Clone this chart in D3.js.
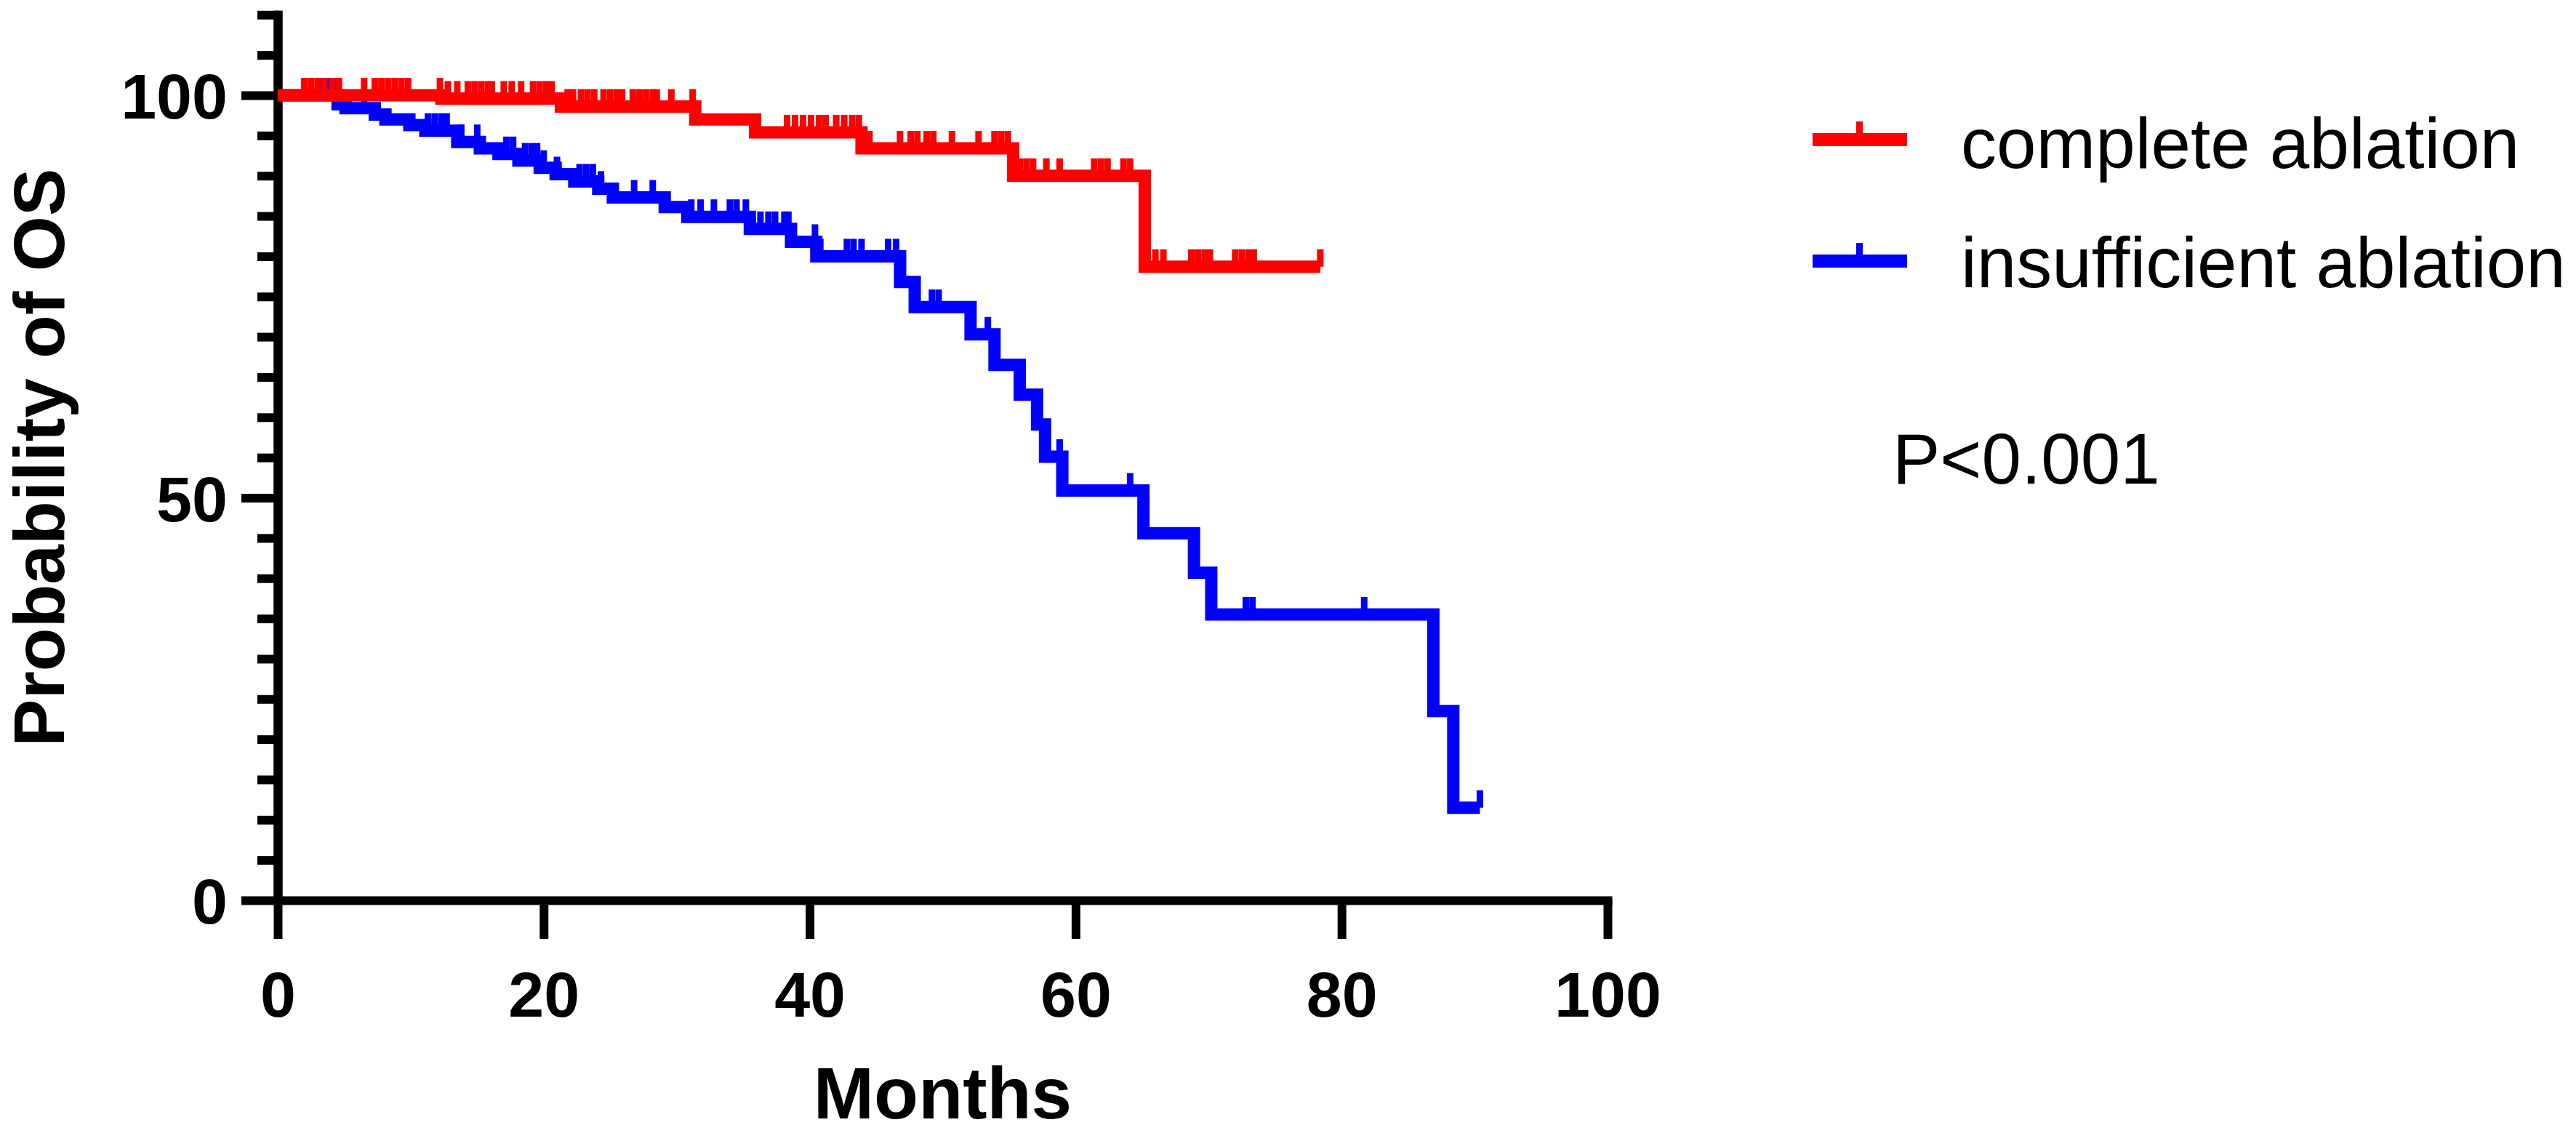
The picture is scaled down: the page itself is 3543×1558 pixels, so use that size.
<!DOCTYPE html>
<html>
<head>
<meta charset="utf-8">
<script src="https://cdn.jsdelivr.net/npm/d3@7"></script>
<style>
  body { margin: 0; background: #fff; }
  text { font-family: "Liberation Sans", Arial, sans-serif; fill: #000; }
</style>
</head>
<body>
<div id="chart"></div>
<script>
// Kaplan-Meier steps (months, % surviving)
const completeTimes = [0, 12.3, 21.3, 31.4, 35.9, 43.9, 55.3, 65.2];
const completeSurv = [100, 99.6, 98.6, 97.0, 95.4, 93.4, 90.0, 78.7];
const completeEnd = 78.4;
const completeCensored = [2.0, 2.5, 3.0, 3.5, 4.1, 4.6, 6.5, 7.3, 7.8, 8.3, 8.8, 9.3, 9.8,
    12.2, 12.8, 13.5, 14.3, 14.8, 15.3, 15.8, 16.1, 17.0, 17.6, 18.3, 19.2, 19.7, 20.2, 20.6,
    21.8, 22.2, 22.8, 23.3, 23.8, 24.5, 25.0, 25.5, 25.9, 26.7, 27.2, 27.7, 28.2, 28.5, 29.6, 31.2,
    36.0, 38.3, 38.9, 39.5, 40.1, 40.7, 41.2, 42.0, 42.6, 43.2, 43.7, 44.5, 46.8, 47.6, 48.1,
    48.8, 49.3, 50.7, 52.7, 53.9, 54.4, 54.9, 55.8, 56.3, 56.8, 57.8, 58.8, 61.4, 61.9, 62.4,
    63.6, 64.1, 66.0, 66.6, 68.7, 69.2, 69.7, 70.1, 72.0, 72.5, 73.0, 73.4, 78.4];

const insuffTimes = [0, 4.5, 5.1, 7.3, 8.1, 9.9, 11.1, 13.5, 15.2, 16.6, 18.1, 19.7, 20.9, 22.3,
    24.1, 25.2, 29.1, 30.8, 35.5, 38.6, 40.5, 46.8, 47.9, 52.1, 53.9, 55.8, 57.1, 57.7, 59.0,
    65.1, 68.9, 70.2, 86.9, 88.4];
const insuffSurv = [100, 98.9, 98.4, 97.6, 97.0, 96.3, 95.6, 94.2, 93.4, 92.7, 91.9, 91.0, 90.2,
    89.3, 88.4, 87.3, 86.1, 84.9, 83.4, 81.8, 80.0, 76.8, 73.7, 70.3, 66.5, 62.8, 59.1, 55.1, 50.9,
    45.6, 40.7, 35.5, 23.5, 11.5];
const insuffEnd = 90.4;
const insuffCensored = [3.3, 3.9, 4.4, 6.5, 11.3, 11.8, 12.3, 12.7, 13.8, 15.0, 17.2, 17.7, 18.6,
    19.1, 19.5, 20.0, 21.0, 22.7, 23.2, 23.7, 24.3, 26.8, 28.2, 31.1, 31.8, 32.8, 34.0, 34.5, 35.2,
    36.3, 36.9, 37.4, 38.1, 38.4, 40.4, 40.8, 42.8, 43.3, 43.9, 45.9, 46.5, 49.2, 49.7, 53.4, 58.8,
    64.1, 72.8, 73.3, 81.7, 90.4];

const xTicks = [0, 20, 40, 60, 80, 100];
const yMajorTicks = [0, 50, 100];
const yMinorTicks = [5, 10, 15, 20, 25, 30, 35, 40, 45, 55, 60, 65, 70, 75, 80, 85, 90, 95, 105, 110];

const groupNames = ["complete ablation", "insufficient ablation"];
const groupColors = ["#ff0000", "#0000ff"];
const pText = "P<0.001";

const width = 3543;
const height = 1558;

const svg = d3.select("#chart")
    .append("svg")
    .attr("width", width)
    .attr("height", height)
    .style("background", "#fff");

const x = d3.scaleLinear().domain([0, 100]).range([382, 2211]);
const y = d3.scaleLinear().domain([0, 110]).range([1238, 20.3]);

// axes
const xAxis = svg.append("g")
    .attr("transform", `translate(0,${y(0)})`)
    .call(d3.axisBottom(x).tickValues(xTicks).tickSize(53).tickSizeOuter(0).tickPadding(44));

const yMinor = svg.append("g")
    .attr("transform", `translate(${x(0)},0)`)
    .call(d3.axisLeft(y).tickValues(yMinorTicks).tickSize(28).tickSizeOuter(0).tickFormat(""));

const yAxis = svg.append("g")
    .attr("transform", `translate(${x(0)},0)`)
    .call(d3.axisLeft(y).tickValues(yMajorTicks).tickSize(50).tickSizeOuter(0).tickPadding(19));

[xAxis, yMinor, yAxis].forEach(g => {
    g.select(".domain").attr("stroke", "#000").attr("stroke-width", 12).attr("stroke-linecap", "square");
    g.selectAll(".tick line").attr("stroke", "#000").attr("stroke-width", 12);
});

xAxis.selectAll(".tick text")
    .attr("font-size", 88)
    .attr("font-weight", "bold")
    .attr("dy", "0.72em");

yAxis.selectAll(".tick text")
    .attr("font-size", 88)
    .attr("font-weight", "bold")
    .attr("dy", "0.36em");

// axis titles
svg.append("text")
    .attr("x", (x(0) + x(100)) / 2)
    .attr("y", 1538)
    .attr("text-anchor", "middle")
    .attr("font-size", 100)
    .attr("font-weight", "bold")
    .text("Months");

svg.append("text")
    .attr("transform", `translate(88,${(y(0) + y(110)) / 2}) rotate(-90)`)
    .attr("text-anchor", "middle")
    .attr("font-size", 98)
    .attr("font-weight", "bold")
    .text("Probability of OS");

// survival curves
function survAt(times, surv, t) {
    let i = d3.bisectRight(times, t) - 1;
    if (i < 0) i = 0;
    return surv[i];
}

const stepLine = d3.line()
    .x(d => x(d[0]))
    .y(d => y(d[1]))
    .curve(d3.curveStepAfter);

const series = [
    { times: insuffTimes, surv: insuffSurv, end: insuffEnd, censored: insuffCensored, color: groupColors[1] },
    { times: completeTimes, surv: completeSurv, end: completeEnd, censored: completeCensored, color: groupColors[0] }
];

series.forEach(s => {
    const pts = s.times.map((t, i) => [t, s.surv[i]]);
    pts.push([s.end, s.surv[s.surv.length - 1]]);

    svg.append("path")
        .datum(pts)
        .attr("fill", "none")
        .attr("stroke", s.color)
        .attr("stroke-width", 17)
        .attr("stroke-linejoin", "miter")
        .attr("d", stepLine);

    svg.append("g")
        .selectAll("rect")
        .data(s.censored)
        .join("rect")
        .attr("x", d => x(d) - 4.5)
        .attr("y", d => y(survAt(s.times, s.surv, d)) - 24)
        .attr("width", 9)
        .attr("height", 24)
        .attr("fill", s.color);
});

// legend
const legend = svg.append("g");
const legendY = [192, 359];
const legendBase = [231, 395];

groupNames.forEach((name, i) => {
    legend.append("line")
        .attr("x1", 2493).attr("x2", 2623)
        .attr("y1", legendY[i]).attr("y2", legendY[i])
        .attr("stroke", groupColors[i])
        .attr("stroke-width", 18);
    legend.append("rect")
        .attr("x", 2553).attr("y", legendY[i] - 25)
        .attr("width", 9).attr("height", 25)
        .attr("fill", groupColors[i]);
    legend.append("text")
        .attr("x", 2697)
        .attr("y", legendBase[i])
        .attr("font-size", 98)
        .text(name);
});

svg.append("text")
    .attr("x", 2603)
    .attr("y", 665)
    .attr("font-size", 98)
    .text(pText);
</script>
</body>
</html>
